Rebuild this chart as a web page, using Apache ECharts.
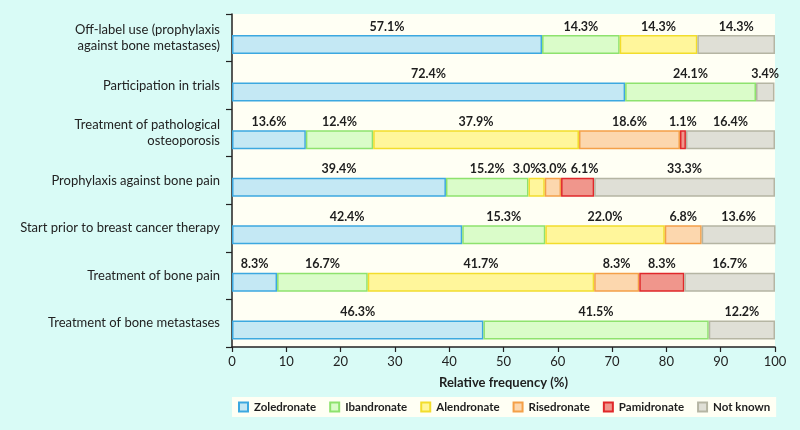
<!DOCTYPE html>
<html>
<head>
<meta charset="utf-8">
<script src="https://cdn.jsdelivr.net/npm/echarts@6/dist/echarts.min.js"></script>
<style>
  html, body { margin: 0; padding: 0; background: #d9fbf6; }
  #chart { width: 800px; height: 430px; }
</style>
</head>
<body>
<div id="chart"></div>
<script>
var categories = [
  'Off-label use (prophylaxis\nagainst bone metastases)',
  'Participation in trials',
  'Treatment of pathological\nosteoporosis',
  'Prophylaxis against bone pain',
  'Start prior to breast cancer therapy',
  'Treatment of bone pain',
  'Treatment of bone metastases'
];
var seriesNames = ['Zoledronate', 'Ibandronate', 'Alendronate', 'Risedronate', 'Pamidronate', 'Not known'];
var zoledronate = [57.1, 72.4, 13.6, 39.4, 42.4, 8.3, 46.3];
var ibandronate = [14.3, 24.1, 12.4, 15.2, 15.3, 16.7, 41.5];
var alendronate = [14.3, null, 37.9, 3.0, 22.0, 41.7, null];
var risedronate = [null, null, 18.6, 3.0, 6.8, 8.3, null];
var pamidronate = [null, null, 1.1, 6.1, null, 8.3, null];
var notKnown = [14.3, 3.4, 16.4, 33.3, 13.6, 16.7, 12.2];
var xTicks = { min: 0, max: 100, interval: 10 };

var values = [zoledronate, ibandronate, alendronate, risedronate, pamidronate, notKnown];
var fills = ['#c4e8f4', '#dafcc9', '#fff69b', '#fcd7ae', '#f0968c', '#dfdfd6'];
var borders = ['#3ca8e0', '#8ee26e', '#f2dd2c', '#f4a048', '#e0282a', '#b5b5a3'];
// horizontal label nudges (px) for crowded small segments, keyed "row-series"
var labelNudge = { '3-2': -10, '3-4': 7 };
var FONT = 'Lato';

var series = [{
  name: 'spacer', type: 'bar', stack: 'spacer', barWidth: 13.4, barGap: '0%',
  data: categories.map(function () { return 0; }),
  itemStyle: { color: 'rgba(0,0,0,0)' }, silent: true, tooltip: { show: false }
}];
seriesNames.forEach(function (n, i) {
  series.push({
    name: n, type: 'bar', stack: 'total', barWidth: 19, barGap: '0%',
    data: values[i].map(function (v, j) {
      var off = labelNudge[j + '-' + i];
      return off ? { value: v, label: { offset: [off, 0] } } : v;
    }),
    itemStyle: { color: fills[i], borderColor: borders[i], borderWidth: 1.5 },
    label: {
      show: true, position: 'top', distance: 2,
      fontFamily: FONT, fontSize: 12.5, fontWeight: 'bold', color: '#1e1e1e',
      formatter: function (p) { return p.value == null ? '' : p.value.toFixed(1) + '%'; }
    },
    emphasis: { disabled: true }
  });
});

var chart = echarts.init(document.getElementById('chart'));
chart.setOption({
  backgroundColor: '#d9fbf6',
  animation: false,
  textStyle: { fontFamily: FONT },
  grid: { left: 232, right: 25, top: 14, bottom: 83, show: true, backgroundColor: '#fffff4', borderWidth: 0 },
  legend: {
    data: seriesNames, left: 232, top: 397, itemWidth: 9, itemHeight: 9, itemGap: 13,
    padding: [4, 6, 4, 6], backgroundColor: '#fffff4', icon: 'rect',
    textStyle: { fontFamily: FONT, fontSize: 11.5, fontWeight: 'bold', color: '#1e1e1e', padding: [0, 0, 0, 1] }
  },
  xAxis: {
    type: 'value', min: xTicks.min, max: xTicks.max, interval: xTicks.interval,
    name: 'Relative frequency (%)', nameLocation: 'middle', nameGap: 29,
    nameTextStyle: { fontFamily: FONT, fontSize: 13, fontWeight: 'bold', color: '#1e1e1e' },
    axisLine: { show: true, lineStyle: { color: '#222', width: 1.5 } },
    axisTick: { show: true, length: 5, lineStyle: { color: '#222', width: 1.2 } },
    axisLabel: { fontFamily: FONT, fontSize: 13, color: '#222', margin: 8 },
    splitLine: { show: false }
  },
  yAxis: {
    type: 'category', data: categories, inverse: true,
    axisLine: { show: true, lineStyle: { color: '#222', width: 1.5 } },
    axisTick: { show: true, length: 6, lineStyle: { color: '#222', width: 1.2 } },
    axisLabel: { fontFamily: FONT, fontSize: 13, color: '#222', margin: 12, lineHeight: 16, align: 'right' }
  },
  series: series
});
</script>
</body>
</html>
